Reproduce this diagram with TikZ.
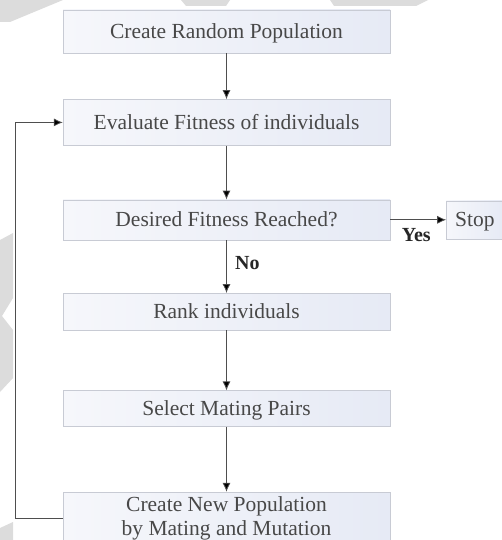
\documentclass[tikz,border=0pt]{standalone}
\usepackage{fontspec}
\setmainfont{Liberation Serif}
\usetikzlibrary{arrows.meta,positioning}

\definecolor{boxline}{HTML}{C8CBD4}
\definecolor{boxleft}{HTML}{F6F7FB}
\definecolor{boxright}{HTML}{E6EAF5}
\definecolor{boxtext}{HTML}{484848}
\definecolor{linkgray}{HTML}{4E4E4E}
\definecolor{wmgray}{HTML}{DCDCDC}

\begin{document}
\begin{tikzpicture}
            [x=1pt,y=-1pt,node distance=50pt,
             stepbox/.style={rectangle,draw=boxline,left color=boxleft,right color=boxright,
                             text=boxtext,minimum width=327pt,minimum height=40pt,align=center,
                             text height=16pt,text depth=2pt,
                             font=\fontsize{21.5}{25}\selectfont},
             link/.style={-{Latex[length=9pt,width=8pt,fill=black]},draw=linkgray,line width=0.8pt},
             answer/.style={text=black!85,font=\fontsize{20}{24}\selectfont\bfseries}]

            \useasboundingbox (0,0) rectangle (502,540);

            % faint marks behind the chart
            \fill[wmgray] (0,0) -- (63,0) -- (10,22) -- (0,22) -- cycle;
            \fill[wmgray] (181,0) -- (230,0) -- (226,6) -- (186,6) -- cycle;
            \fill[wmgray] (330,0) -- (428,0) -- (416,6) -- (334,6) -- cycle;
            \fill[wmgray] (0,240) -- (13,233) -- (13,298) -- (2,316) -- (13,330) -- (13,378) -- (0,392) -- cycle;
            \fill[wmgray] (0,528) -- (13,522) -- (13,540) -- (0,540) -- cycle;

            \node (create) [stepbox,minimum height=43pt] at (226.5,31.5) {Create Random Population};
            \node (evaluate) [stepbox,minimum height=46pt,below=46pt of create] {Evaluate Fitness of individuals};
            \node (desired) [stepbox,below=54pt of evaluate] {Desired Fitness Reached?};
            \node (stop) [stepbox,minimum width=57pt,minimum height=38pt,right=56pt of desired] {Stop};
            \node (rank) [stepbox,minimum height=37pt,below=53pt of desired] {Rank individuals};
            \node (select) [stepbox,minimum height=36pt,below=60pt of rank] {Select Mating Pairs};
            \node (newpop) [stepbox,minimum height=53pt,text height=36pt,below=65pt of select] {Create New Population\\[-1pt]by Mating and Mutation};
            \coordinate (back) at (15,300);

            \path (create) edge[link] (evaluate);
            \path (evaluate) edge[link] (desired);
            \path (desired) edge[link] node[answer,below,yshift=-5pt,xshift=-2pt] {Yes} (stop);
            \path (desired) edge[link] node[answer,right,pos=0.44,xshift=5pt] {No} (rank);
            \path (rank) edge[link] (select);
            \path (select) edge[link] (newpop);
            \draw[link] (newpop.west) -- (newpop.west -| back) |- (evaluate.west);
        \end{tikzpicture}
\end{document}
